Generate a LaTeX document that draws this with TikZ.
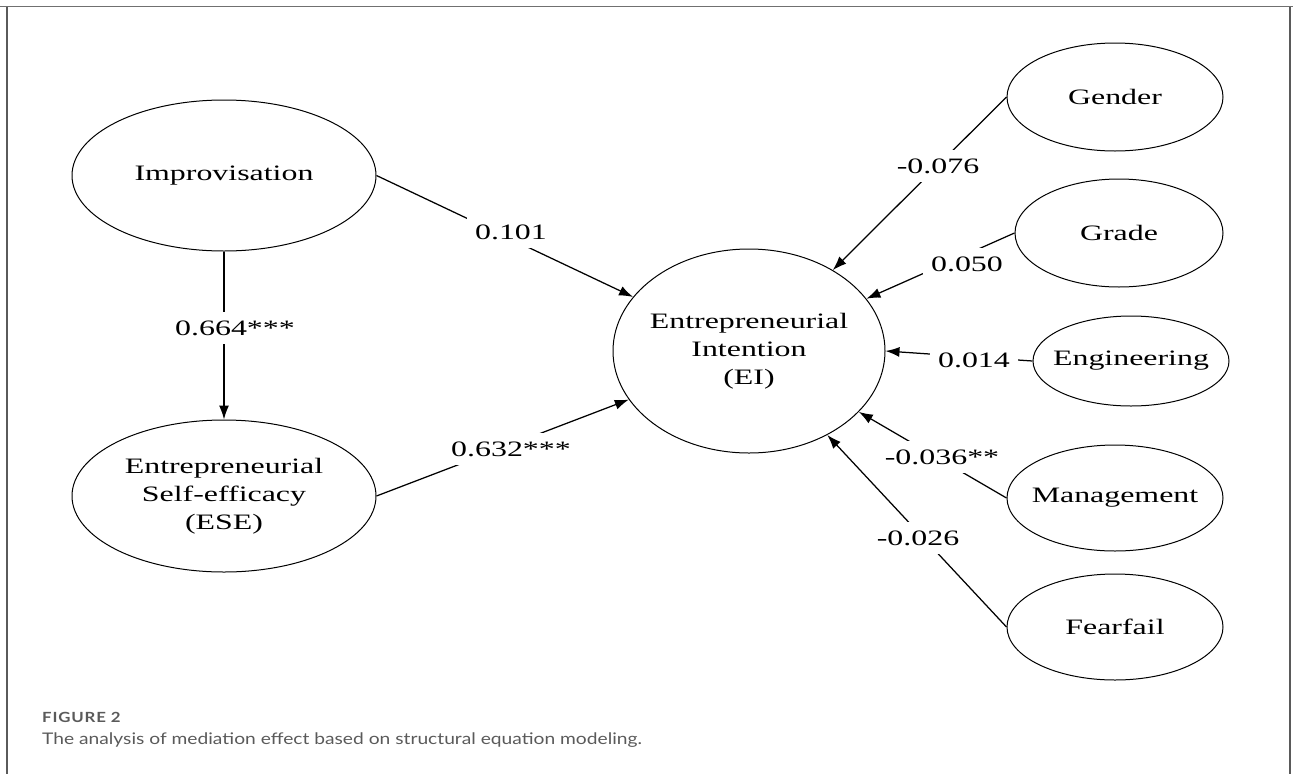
\documentclass[tikz,border=0pt]{standalone}
\usepackage{fontspec}
\setmainfont{Liberation Serif}[FakeStretch=1.45]
\newfontfamily\capfont{Lato}[FakeStretch=1.2]
\newfontfamily\figfont{Lato}[FakeStretch=1.2, LetterSpace=6]
\usetikzlibrary{shapes.geometric,arrows.meta}
\definecolor{framegray}{HTML}{707070}
\definecolor{capgray}{HTML}{5A5A5A}
\begin{document}
\begin{tikzpicture}[x=1pt,y=-1pt,
  every node/.append style={font=\fontsize{22}{28}\selectfont},
  var/.style={ellipse, draw, line width=1pt, inner sep=0pt},
  lbl/.style={fill=white, inner xsep=8pt, inner ysep=9pt},
  conn/.style={line width=1.25pt},
  arr/.style={conn, -{Latex[length=14pt,width=10pt]}},
  captext/.style={anchor=base west, inner sep=0pt, text=capgray}]
\useasboundingbox (0,0) rectangle (1293,774);
% frame
\draw[framegray, line width=1.3pt] (0,6.5) -- (1293,6.5);
\draw[framegray!80!black, line width=1.3pt] (7,6.5) -- (7,774);
\draw[framegray!80!black, line width=1.3pt] (1290,6.5) -- (1290,774);
% latent variables
\node[var, minimum width=304pt, minimum height=151pt,
  label={[name=impt]center:Improvisation}] (imp) at (224,175.5) {};
\node[var, minimum width=304pt, minimum height=152pt,
  label={[name=eset, align=center]center:Entrepreneurial\\Self-efficacy\\(ESE)}] (ese) at (224,496) {};
\node[var, minimum width=272pt, minimum height=204pt,
  label={[name=eit, align=center]center:Entrepreneurial\\Intention\\(EI)}] (ei) at (749,351) {};
% controls
\node[var, minimum width=216pt, minimum height=108pt,
  label={[name=gent]center:Gender}] (gen) at (1115,97) {};
\node[var, minimum width=208pt, minimum height=108pt,
  label={[name=grat]center:Grade}] (gra) at (1119,233) {};
\node[var, minimum width=196pt, minimum height=90pt,
  label={[name=engt]center:Engineering}] (eng) at (1131,361) {};
\node[var, minimum width=216pt, minimum height=106pt,
  label={[name=mant]center:Management}] (man) at (1115,498) {};
\node[var, minimum width=216pt, minimum height=106pt,
  label={[name=feat]center:Fearfail}] (fea) at (1115,627) {};
% paths
\draw[arr] (imp.south) -- (ese.north);
\draw[arr] (imp.east) -- (ei.155);
\draw[arr] (ese.east) -- (ei.202);
\draw[arr] (gen.west) -- (ei.44);
\draw[arr] (gra.west) -- (ei.24);
\draw[arr] (eng.west) -- (ei.0);
\draw[arr] (man.west) -- (ei.331);
\draw[arr] (fea.west) -- (ei.313);
% coefficients
\node[lbl] (l1) at (235,328) {0.664***};
\node[lbl] (l2) at (511,232) {0.101};
\node[lbl] (l3) at (511,449) {0.632***};
\node[lbl] (l4) at (938,166) {-0.076};
\node[lbl] (l5) at (967,264) {0.050};
\node[lbl] (l6) at (974,360) {0.014};
\node[lbl] (l7) at (942,457) {-0.036**};
\node[lbl] (l8) at (918,538) {-0.026};
% caption
\node[captext, font=\figfont\bfseries\fontsize{14}{16}\selectfont] (fig) at (42,722) {FIGURE 2};
\node[captext, font=\capfont\fontsize{16}{20}\selectfont] (capt) at (42,744) {The analysis of mediation effect based on structural equation modeling.};
\end{tikzpicture}
\end{document}
